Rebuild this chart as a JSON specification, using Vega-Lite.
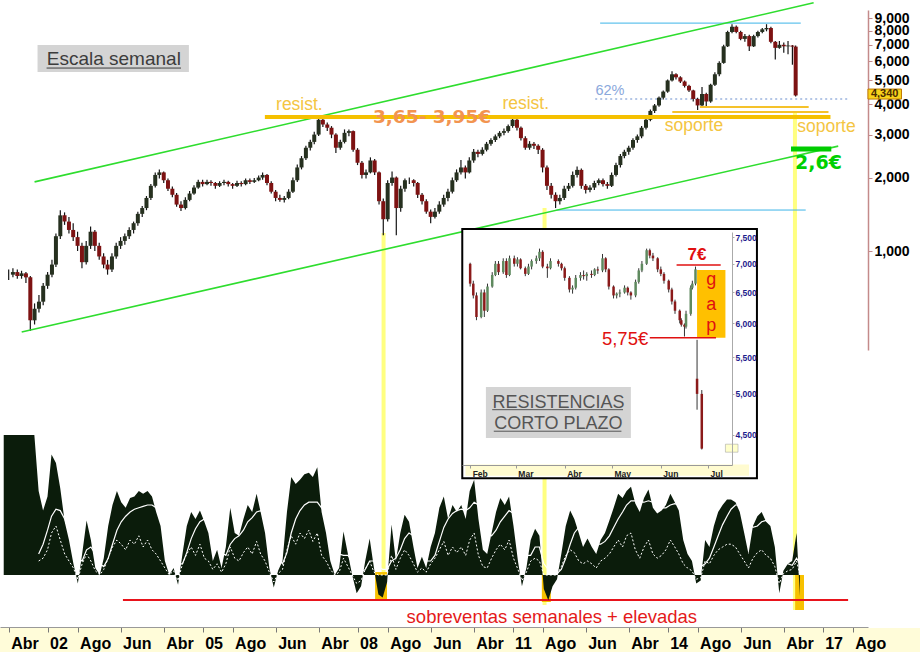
{
"$schema": "https://vega.github.io/schema/vega-lite/v6.json",
"width": 868, "height": 627,
"autosize": "none",
"padding": {"left": 0, "top": 0, "right": 52, "bottom": 25},
"background": "#ffffff",
"config": {"view": {"stroke": null}, "font": "Liberation Sans", "axis": {"labelFont": "Liberation Sans", "grid": false}},
"datasets": {
"m": [
{"d":"2001-04-01","o":0.80,"h":0.84,"l":0.76,"c":0.80,"s":100},
{"d":"2001-05-01","o":0.80,"h":0.85,"l":0.78,"c":0.82,"s":100},
{"d":"2001-06-01","o":0.82,"h":0.84,"l":0.77,"c":0.79,"s":100},
{"d":"2001-07-01","o":0.79,"h":0.83,"l":0.77,"c":0.81,"s":100},
{"d":"2001-08-01","o":0.81,"h":0.82,"l":0.74,"c":0.78,"s":100},
{"d":"2001-09-01","o":0.78,"h":0.79,"l":0.47,"c":0.52,"s":100},
{"d":"2001-10-01","o":0.52,"h":0.61,"l":0.50,"c":0.58,"s":100},
{"d":"2001-11-01","o":0.58,"h":0.66,"l":0.56,"c":0.62,"s":100},
{"d":"2001-12-01","o":0.62,"h":0.74,"l":0.60,"c":0.72,"s":60,"a":15,"g":10},
{"d":"2002-01-01","o":0.72,"h":0.82,"l":0.70,"c":0.80,"s":46,"a":22,"g":12},
{"d":"2002-02-01","o":0.80,"h":0.92,"l":0.78,"c":0.88,"s":56,"a":32,"g":18},
{"d":"2002-03-01","o":0.88,"h":1.18,"l":0.86,"c":1.15,"s":86,"a":42,"g":30},
{"d":"2002-04-01","o":1.15,"h":1.47,"l":1.12,"c":1.40,"s":80,"a":47,"g":35},
{"d":"2002-05-01","o":1.40,"h":1.44,"l":1.28,"c":1.32,"s":62,"a":46,"g":25},
{"d":"2002-06-01","o":1.32,"h":1.38,"l":1.18,"c":1.22,"s":38,"a":40,"g":15},
{"d":"2002-07-01","o":1.22,"h":1.30,"l":1.10,"c":1.14,"s":25,"a":32,"g":10},
{"d":"2002-08-01","o":1.14,"h":1.20,"l":1.00,"c":1.05,"s":8,"a":22,"g":5},
{"d":"2002-09-01","o":1.05,"h":1.08,"l":0.85,"c":0.90,"s":-6,"a":12,"g":-3},
{"d":"2002-10-01","o":0.90,"h":1.10,"l":0.88,"c":1.05,"s":15,"a":10,"g":8},
{"d":"2002-11-01","o":1.05,"h":1.26,"l":1.02,"c":1.20,"s":39,"a":18,"g":15},
{"d":"2002-12-01","o":1.20,"h":1.22,"l":1.00,"c":1.05,"s":25,"a":20,"g":10},
{"d":"2003-01-01","o":1.05,"h":1.08,"l":0.92,"c":0.95,"s":5,"a":15,"g":3},
{"d":"2003-02-01","o":0.95,"h":0.98,"l":0.85,"c":0.88,"s":0,"a":8,"g":0},
{"d":"2003-03-01","o":0.88,"h":0.92,"l":0.80,"c":0.84,"s":12,"a":6,"g":4},
{"d":"2003-04-01","o":0.84,"h":0.98,"l":0.82,"c":0.95,"s":35,"a":12,"g":12},
{"d":"2003-05-01","o":0.95,"h":1.08,"l":0.93,"c":1.05,"s":50,"a":22,"g":20},
{"d":"2003-06-01","o":1.05,"h":1.14,"l":1.02,"c":1.10,"s":60,"a":32,"g":25},
{"d":"2003-07-01","o":1.10,"h":1.18,"l":1.06,"c":1.15,"s":52,"a":38,"g":22},
{"d":"2003-08-01","o":1.15,"h":1.25,"l":1.12,"c":1.22,"s":48,"a":42,"g":18},
{"d":"2003-09-01","o":1.22,"h":1.32,"l":1.18,"c":1.30,"s":55,"a":45,"g":25},
{"d":"2003-10-01","o":1.30,"h":1.45,"l":1.27,"c":1.42,"s":56,"a":47,"g":22},
{"d":"2003-11-01","o":1.42,"h":1.53,"l":1.38,"c":1.50,"s":60,"a":48,"g":28},
{"d":"2003-12-01","o":1.50,"h":1.68,"l":1.47,"c":1.65,"s":58,"a":49,"g":20},
{"d":"2004-01-01","o":1.65,"h":1.88,"l":1.62,"c":1.85,"s":60,"a":50,"g":25},
{"d":"2004-02-01","o":1.85,"h":2.10,"l":1.82,"c":2.05,"s":56,"a":50,"g":18},
{"d":"2004-03-01","o":2.05,"h":2.16,"l":1.98,"c":2.10,"s":45,"a":48,"g":15},
{"d":"2004-04-01","o":2.10,"h":2.12,"l":1.90,"c":1.95,"s":35,"a":44,"g":10},
{"d":"2004-05-01","o":1.95,"h":1.98,"l":1.76,"c":1.80,"s":10,"a":36,"g":5},
{"d":"2004-06-01","o":1.80,"h":1.84,"l":1.66,"c":1.70,"s":0,"a":26,"g":0},
{"d":"2004-07-01","o":1.70,"h":1.73,"l":1.52,"c":1.55,"s":5,"a":16,"g":3},
{"d":"2004-08-01","o":1.55,"h":1.60,"l":1.46,"c":1.50,"s":-7,"a":8,"g":-4},
{"d":"2004-09-01","o":1.50,"h":1.66,"l":1.48,"c":1.62,"s":15,"a":8,"g":8},
{"d":"2004-10-01","o":1.62,"h":1.76,"l":1.60,"c":1.72,"s":35,"a":16,"g":15},
{"d":"2004-11-01","o":1.72,"h":1.86,"l":1.70,"c":1.82,"s":45,"a":26,"g":20},
{"d":"2004-12-01","o":1.82,"h":1.96,"l":1.80,"c":1.92,"s":40,"a":33,"g":14},
{"d":"2005-01-01","o":1.92,"h":1.96,"l":1.84,"c":1.88,"s":46,"a":38,"g":22},
{"d":"2005-02-01","o":1.88,"h":1.96,"l":1.86,"c":1.92,"s":38,"a":40,"g":12},
{"d":"2005-03-01","o":1.92,"h":1.95,"l":1.85,"c":1.90,"s":30,"a":38,"g":10},
{"d":"2005-04-01","o":1.90,"h":1.92,"l":1.80,"c":1.85,"s":10,"a":32,"g":4},
{"d":"2005-05-01","o":1.85,"h":1.93,"l":1.83,"c":1.90,"s":18,"a":24,"g":8},
{"d":"2005-06-01","o":1.90,"h":1.96,"l":1.86,"c":1.92,"s":5,"a":16,"g":2},
{"d":"2005-07-01","o":1.92,"h":1.94,"l":1.84,"c":1.88,"s":20,"a":14,"g":8},
{"d":"2005-08-01","o":1.88,"h":1.90,"l":1.80,"c":1.85,"s":48,"a":22,"g":20},
{"d":"2005-09-01","o":1.85,"h":1.94,"l":1.83,"c":1.90,"s":30,"a":26,"g":12},
{"d":"2005-10-01","o":1.90,"h":1.93,"l":1.84,"c":1.88,"s":28,"a":28,"g":10},
{"d":"2005-11-01","o":1.88,"h":1.98,"l":1.86,"c":1.95,"s":40,"a":32,"g":16},
{"d":"2005-12-01","o":1.95,"h":1.98,"l":1.88,"c":1.92,"s":50,"a":38,"g":20},
{"d":"2006-01-01","o":1.92,"h":1.99,"l":1.90,"c":1.95,"s":45,"a":41,"g":15},
{"d":"2006-02-01","o":1.95,"h":2.04,"l":1.93,"c":2.00,"s":58,"a":45,"g":24},
{"d":"2006-03-01","o":2.00,"h":2.10,"l":1.96,"c":2.05,"s":45,"a":46,"g":15},
{"d":"2006-04-01","o":2.05,"h":2.07,"l":1.86,"c":1.90,"s":30,"a":42,"g":10},
{"d":"2006-05-01","o":1.90,"h":1.93,"l":1.72,"c":1.75,"s":5,"a":34,"g":2},
{"d":"2006-06-01","o":1.75,"h":1.78,"l":1.60,"c":1.65,"s":-9,"a":22,"g":-5},
{"d":"2006-07-01","o":1.65,"h":1.70,"l":1.59,"c":1.62,"s":3,"a":12,"g":1},
{"d":"2006-08-01","o":1.62,"h":1.68,"l":1.58,"c":1.65,"s":10,"a":8,"g":4},
{"d":"2006-09-01","o":1.65,"h":1.79,"l":1.63,"c":1.75,"s":45,"a":16,"g":18},
{"d":"2006-10-01","o":1.75,"h":2.00,"l":1.73,"c":1.95,"s":70,"a":30,"g":28},
{"d":"2006-11-01","o":1.95,"h":2.26,"l":1.92,"c":2.20,"s":65,"a":40,"g":22},
{"d":"2006-12-01","o":2.20,"h":2.45,"l":2.16,"c":2.40,"s":68,"a":46,"g":30},
{"d":"2007-01-01","o":2.40,"h":2.70,"l":2.36,"c":2.65,"s":72,"a":50,"g":26},
{"d":"2007-02-01","o":2.65,"h":2.86,"l":2.58,"c":2.80,"s":73,"a":52,"g":32},
{"d":"2007-03-01","o":2.80,"h":3.08,"l":2.74,"c":3.00,"s":70,"a":52,"g":24},
{"d":"2007-04-01","o":3.00,"h":3.55,"l":2.96,"c":3.45,"s":77,"a":52,"g":30},
{"d":"2007-05-01","o":3.45,"h":3.50,"l":3.22,"c":3.30,"s":45,"a":48,"g":14},
{"d":"2007-06-01","o":3.30,"h":3.36,"l":3.10,"c":3.20,"s":30,"a":42,"g":10},
{"d":"2007-07-01","o":3.20,"h":3.25,"l":2.90,"c":3.00,"s":10,"a":34,"g":4},
{"d":"2007-08-01","o":3.00,"h":3.04,"l":2.52,"c":2.65,"s":0,"a":24,"g":0},
{"d":"2007-09-01","o":2.65,"h":2.86,"l":2.60,"c":2.80,"s":5,"a":15,"g":2},
{"d":"2007-10-01","o":2.80,"h":3.15,"l":2.76,"c":3.05,"s":31,"a":14,"g":12},
{"d":"2007-11-01","o":3.05,"h":3.15,"l":2.95,"c":3.10,"s":15,"a":14,"g":6},
{"d":"2007-12-01","o":3.10,"h":3.12,"l":2.55,"c":2.60,"s":0,"a":10,"g":0},
{"d":"2008-01-01","o":2.60,"h":2.64,"l":2.25,"c":2.30,"s":-13,"a":3,"g":-6},
{"d":"2008-02-01","o":2.30,"h":2.34,"l":1.98,"c":2.05,"s":-8,"a":2,"g":-4},
{"d":"2008-03-01","o":2.05,"h":2.16,"l":1.98,"c":2.10,"s":10,"a":4,"g":4},
{"d":"2008-04-01","o":2.10,"h":2.42,"l":2.08,"c":2.35,"s":26,"a":10,"g":10},
{"d":"2008-05-01","o":2.35,"h":2.38,"l":2.05,"c":2.10,"s":5,"a":10,"g":2},
{"d":"2008-06-01","o":2.10,"h":2.12,"l":1.55,"c":1.60,"s":-14,"a":6,"g":0},
{"d":"2008-07-01","o":1.60,"h":1.64,"l":1.16,"c":1.35,"s":-16,"a":4,"g":0},
{"d":"2008-08-01","o":1.35,"h":1.95,"l":1.32,"c":1.90,"s":-5,"a":4,"g":0},
{"d":"2008-09-01","o":1.90,"h":2.12,"l":1.85,"c":2.00,"s":36,"a":10,"g":14},
{"d":"2008-10-01","o":2.00,"h":2.02,"l":1.16,"c":1.50,"s":10,"a":12,"g":4},
{"d":"2008-11-01","o":1.50,"h":1.85,"l":1.45,"c":1.80,"s":30,"a":18,"g":12},
{"d":"2008-12-01","o":1.80,"h":1.98,"l":1.75,"c":1.95,"s":43,"a":26,"g":18},
{"d":"2009-01-01","o":1.95,"h":2.00,"l":1.88,"c":1.95,"s":38,"a":30,"g":14},
{"d":"2009-02-01","o":1.95,"h":1.97,"l":1.84,"c":1.90,"s":20,"a":28,"g":8},
{"d":"2009-03-01","o":1.90,"h":1.92,"l":1.65,"c":1.70,"s":5,"a":22,"g":2},
{"d":"2009-04-01","o":1.70,"h":1.73,"l":1.55,"c":1.60,"s":13,"a":16,"g":5},
{"d":"2009-05-01","o":1.60,"h":1.63,"l":1.42,"c":1.45,"s":5,"a":10,"g":2},
{"d":"2009-06-01","o":1.45,"h":1.48,"l":1.30,"c":1.38,"s":20,"a":10,"g":8},
{"d":"2009-07-01","o":1.38,"h":1.50,"l":1.36,"c":1.45,"s":30,"a":14,"g":12},
{"d":"2009-08-01","o":1.45,"h":1.60,"l":1.42,"c":1.55,"s":48,"a":24,"g":18},
{"d":"2009-09-01","o":1.55,"h":1.70,"l":1.52,"c":1.65,"s":56,"a":34,"g":24},
{"d":"2009-10-01","o":1.65,"h":1.80,"l":1.60,"c":1.75,"s":40,"a":40,"g":14},
{"d":"2009-11-01","o":1.75,"h":2.00,"l":1.72,"c":1.95,"s":50,"a":44,"g":20},
{"d":"2009-12-01","o":1.95,"h":2.16,"l":1.92,"c":2.10,"s":45,"a":46,"g":16},
{"d":"2010-01-01","o":2.10,"h":2.36,"l":2.06,"c":2.20,"s":50,"a":47,"g":20},
{"d":"2010-02-01","o":2.20,"h":2.24,"l":1.98,"c":2.10,"s":40,"a":46,"g":14},
{"d":"2010-03-01","o":2.10,"h":2.42,"l":2.08,"c":2.35,"s":60,"a":48,"g":25},
{"d":"2010-04-01","o":2.35,"h":2.62,"l":2.30,"c":2.55,"s":68,"a":52,"g":30},
{"d":"2010-05-01","o":2.55,"h":2.60,"l":2.42,"c":2.50,"s":40,"a":50,"g":14},
{"d":"2010-06-01","o":2.50,"h":2.66,"l":2.46,"c":2.60,"s":18,"a":42,"g":6},
{"d":"2010-07-01","o":2.60,"h":2.80,"l":2.56,"c":2.75,"s":15,"a":32,"g":5},
{"d":"2010-08-01","o":2.75,"h":2.90,"l":2.70,"c":2.85,"s":30,"a":28,"g":12},
{"d":"2010-09-01","o":2.85,"h":3.00,"l":2.80,"c":2.95,"s":45,"a":32,"g":18},
{"d":"2010-10-01","o":2.95,"h":3.10,"l":2.90,"c":3.05,"s":55,"a":38,"g":22},
{"d":"2010-11-01","o":3.05,"h":3.18,"l":2.98,"c":3.10,"s":50,"a":42,"g":18},
{"d":"2010-12-01","o":3.10,"h":3.30,"l":3.05,"c":3.25,"s":56,"a":46,"g":25},
{"d":"2011-01-01","o":3.25,"h":3.60,"l":3.20,"c":3.45,"s":35,"a":44,"g":12},
{"d":"2011-02-01","o":3.45,"h":3.50,"l":3.12,"c":3.20,"s":10,"a":36,"g":4},
{"d":"2011-03-01","o":3.20,"h":3.24,"l":2.84,"c":2.90,"s":-8,"a":24,"g":-4},
{"d":"2011-04-01","o":2.90,"h":2.95,"l":2.60,"c":2.65,"s":5,"a":14,"g":2},
{"d":"2011-05-01","o":2.65,"h":2.82,"l":2.60,"c":2.75,"s":25,"a":14,"g":10},
{"d":"2011-06-01","o":2.75,"h":2.80,"l":2.62,"c":2.70,"s":33,"a":20,"g":12},
{"d":"2011-07-01","o":2.70,"h":2.74,"l":2.50,"c":2.60,"s":28,"a":20,"g":10},
{"d":"2011-08-01","o":2.60,"h":2.64,"l":2.10,"c":2.20,"s":-10,"a":8,"g":0},
{"d":"2011-09-01","o":2.20,"h":2.24,"l":1.78,"c":1.85,"s":-18,"a":4,"g":0},
{"d":"2011-10-01","o":1.85,"h":1.90,"l":1.64,"c":1.70,"s":-8,"a":2,"g":0},
{"d":"2011-11-01","o":1.70,"h":1.74,"l":1.50,"c":1.60,"s":-3,"a":1,"g":0},
{"d":"2011-12-01","o":1.60,"h":1.70,"l":1.55,"c":1.65,"s":15,"a":4,"g":6},
{"d":"2012-01-01","o":1.65,"h":1.85,"l":1.62,"c":1.80,"s":35,"a":12,"g":14},
{"d":"2012-02-01","o":1.80,"h":1.90,"l":1.76,"c":1.85,"s":46,"a":22,"g":18},
{"d":"2012-03-01","o":1.85,"h":2.12,"l":1.82,"c":2.05,"s":40,"a":30,"g":16},
{"d":"2012-04-01","o":2.05,"h":2.22,"l":2.00,"c":2.15,"s":30,"a":34,"g":10},
{"d":"2012-05-01","o":2.15,"h":2.18,"l":1.80,"c":1.85,"s":20,"a":32,"g":8},
{"d":"2012-06-01","o":1.85,"h":1.88,"l":1.72,"c":1.78,"s":26,"a":28,"g":10},
{"d":"2012-07-01","o":1.78,"h":1.86,"l":1.74,"c":1.82,"s":20,"a":26,"g":8},
{"d":"2012-08-01","o":1.82,"h":1.94,"l":1.78,"c":1.90,"s":15,"a":22,"g":5},
{"d":"2012-09-01","o":1.90,"h":1.98,"l":1.86,"c":1.95,"s":25,"a":22,"g":10},
{"d":"2012-10-01","o":1.95,"h":1.98,"l":1.84,"c":1.88,"s":30,"a":24,"g":12},
{"d":"2012-11-01","o":1.88,"h":1.92,"l":1.80,"c":1.85,"s":39,"a":28,"g":15},
{"d":"2012-12-01","o":1.85,"h":2.10,"l":1.83,"c":2.05,"s":48,"a":34,"g":20},
{"d":"2013-01-01","o":2.05,"h":2.30,"l":2.02,"c":2.25,"s":58,"a":40,"g":25},
{"d":"2013-02-01","o":2.25,"h":2.50,"l":2.20,"c":2.45,"s":55,"a":45,"g":20},
{"d":"2013-03-01","o":2.45,"h":2.60,"l":2.40,"c":2.55,"s":60,"a":50,"g":28},
{"d":"2013-04-01","o":2.55,"h":2.70,"l":2.48,"c":2.65,"s":63,"a":53,"g":30},
{"d":"2013-05-01","o":2.65,"h":2.90,"l":2.60,"c":2.85,"s":51,"a":53,"g":18},
{"d":"2013-06-01","o":2.85,"h":3.00,"l":2.78,"c":2.95,"s":45,"a":52,"g":12},
{"d":"2013-07-01","o":2.95,"h":3.25,"l":2.90,"c":3.20,"s":55,"a":52,"g":20},
{"d":"2013-08-01","o":3.20,"h":3.50,"l":3.15,"c":3.45,"s":61,"a":53,"g":25},
{"d":"2013-09-01","o":3.45,"h":3.80,"l":3.40,"c":3.75,"s":48,"a":52,"g":15},
{"d":"2013-10-01","o":3.75,"h":4.00,"l":3.68,"c":3.95,"s":44,"a":50,"g":12},
{"d":"2013-11-01","o":3.95,"h":4.30,"l":3.90,"c":4.25,"s":46,"a":48,"g":14},
{"d":"2013-12-01","o":4.25,"h":4.55,"l":4.18,"c":4.50,"s":50,"a":48,"g":18},
{"d":"2014-01-01","o":4.50,"h":5.05,"l":4.45,"c":5.00,"s":58,"a":50,"g":25},
{"d":"2014-02-01","o":5.00,"h":5.45,"l":4.95,"c":5.30,"s":52,"a":51,"g":20},
{"d":"2014-03-01","o":5.30,"h":5.35,"l":5.05,"c":5.15,"s":46,"a":50,"g":15},
{"d":"2014-04-01","o":5.15,"h":5.20,"l":4.88,"c":4.95,"s":25,"a":45,"g":8},
{"d":"2014-05-01","o":4.95,"h":5.00,"l":4.68,"c":4.75,"s":15,"a":36,"g":5},
{"d":"2014-06-01","o":4.75,"h":4.80,"l":4.48,"c":4.55,"s":10,"a":26,"g":3},
{"d":"2014-07-01","o":4.55,"h":4.58,"l":4.10,"c":4.20,"s":-6,"a":15,"g":-3},
{"d":"2014-08-01","o":4.20,"h":4.25,"l":3.78,"c":3.95,"s":-4,"a":6,"g":-2},
{"d":"2014-09-01","o":3.95,"h":4.70,"l":3.92,"c":4.40,"s":25,"a":8,"g":10},
{"d":"2014-10-01","o":4.40,"h":4.45,"l":3.89,"c":4.10,"s":20,"a":12,"g":8},
{"d":"2014-11-01","o":4.10,"h":4.85,"l":4.05,"c":4.80,"s":35,"a":20,"g":14},
{"d":"2014-12-01","o":4.80,"h":5.40,"l":4.75,"c":5.30,"s":45,"a":28,"g":18},
{"d":"2015-01-01","o":5.30,"h":6.00,"l":5.20,"c":5.90,"s":50,"a":36,"g":20},
{"d":"2015-02-01","o":5.90,"h":7.00,"l":5.85,"c":6.90,"s":54,"a":42,"g":22},
{"d":"2015-03-01","o":6.90,"h":8.00,"l":6.85,"c":7.90,"s":54,"a":47,"g":22},
{"d":"2015-04-01","o":7.90,"h":8.50,"l":7.80,"c":8.30,"s":52,"a":50,"g":20},
{"d":"2015-05-01","o":8.30,"h":8.40,"l":7.80,"c":7.90,"s":45,"a":50,"g":15},
{"d":"2015-06-01","o":7.90,"h":8.00,"l":7.30,"c":7.40,"s":30,"a":46,"g":10},
{"d":"2015-07-01","o":7.40,"h":7.75,"l":7.20,"c":7.60,"s":15,"a":38,"g":5},
{"d":"2015-08-01","o":7.60,"h":7.70,"l":6.60,"c":6.90,"s":35,"a":34,"g":12},
{"d":"2015-09-01","o":6.90,"h":7.70,"l":6.85,"c":7.60,"s":42,"a":35,"g":16},
{"d":"2015-10-01","o":7.60,"h":8.00,"l":7.50,"c":7.90,"s":45,"a":38,"g":18},
{"d":"2015-11-01","o":7.90,"h":8.20,"l":7.80,"c":8.10,"s":38,"a":39,"g":14},
{"d":"2015-12-01","o":8.10,"h":8.50,"l":7.95,"c":8.20,"s":35,"a":38,"g":12},
{"d":"2016-01-01","o":8.20,"h":8.30,"l":7.10,"c":7.20,"s":20,"a":33,"g":6},
{"d":"2016-02-01","o":7.20,"h":7.25,"l":6.10,"c":6.80,"s":-13,"a":22,"g":-6},
{"d":"2016-03-01","o":6.80,"h":7.25,"l":6.75,"c":7.00,"s":3,"a":12,"g":1},
{"d":"2016-04-01","o":7.00,"h":7.15,"l":6.50,"c":6.90,"s":8,"a":8,"g":3},
{"d":"2016-05-01","o":6.90,"h":7.25,"l":6.40,"c":6.95,"s":10,"a":7,"g":4},
{"d":"2016-06-01","o":6.95,"h":6.98,"l":5.80,"c":6.88,"s":30,"a":12,"g":10},
{"d":"2016-06-24","o":6.88,"h":6.95,"l":4.30,"c":4.34,"s":-15,"a":8,"g":0}
],
"ins": [
{"d":"2016-02-01","o":7.00,"h":7.02,"l":6.60,"c":6.65},
{"d":"2016-02-03","o":6.65,"h":6.70,"l":6.40,"c":6.45},
{"d":"2016-02-05","o":6.45,"h":6.50,"l":6.05,"c":6.10},
{"d":"2016-02-08","o":6.10,"h":6.55,"l":6.08,"c":6.50},
{"d":"2016-02-10","o":6.50,"h":6.55,"l":6.10,"c":6.20},
{"d":"2016-02-12","o":6.20,"h":6.65,"l":6.18,"c":6.60},
{"d":"2016-02-15","o":6.60,"h":6.85,"l":6.58,"c":6.80},
{"d":"2016-02-17","o":6.80,"h":7.05,"l":6.78,"c":7.00},
{"d":"2016-02-19","o":7.00,"h":7.05,"l":6.80,"c":6.85},
{"d":"2016-02-22","o":6.85,"h":7.10,"l":6.82,"c":7.05},
{"d":"2016-02-24","o":7.05,"h":7.10,"l":6.75,"c":6.80},
{"d":"2016-02-26","o":6.80,"h":7.15,"l":6.78,"c":7.10},
{"d":"2016-02-29","o":7.10,"h":7.15,"l":6.95,"c":7.00},
{"d":"2016-03-02","o":7.00,"h":7.12,"l":6.95,"c":7.08},
{"d":"2016-03-04","o":7.08,"h":7.10,"l":6.90,"c":6.92},
{"d":"2016-03-07","o":6.92,"h":6.95,"l":6.78,"c":6.82},
{"d":"2016-03-09","o":6.82,"h":7.00,"l":6.80,"c":6.95},
{"d":"2016-03-11","o":6.95,"h":7.08,"l":6.90,"c":7.05},
{"d":"2016-03-14","o":7.05,"h":7.15,"l":7.00,"c":7.10},
{"d":"2016-03-16","o":7.10,"h":7.28,"l":7.05,"c":7.22},
{"d":"2016-03-18","o":7.22,"h":7.25,"l":6.92,"c":6.95},
{"d":"2016-03-21","o":6.95,"h":7.00,"l":6.75,"c":6.92},
{"d":"2016-03-23","o":6.92,"h":7.10,"l":6.90,"c":7.05},
{"d":"2016-03-28","o":7.05,"h":7.08,"l":6.95,"c":7.00},
{"d":"2016-03-30","o":7.00,"h":7.02,"l":6.88,"c":6.92},
{"d":"2016-04-01","o":6.92,"h":6.95,"l":6.70,"c":6.75},
{"d":"2016-04-04","o":6.75,"h":6.78,"l":6.50,"c":6.55},
{"d":"2016-04-06","o":6.55,"h":6.62,"l":6.48,"c":6.58},
{"d":"2016-04-08","o":6.58,"h":6.80,"l":6.55,"c":6.75},
{"d":"2016-04-11","o":6.75,"h":6.85,"l":6.70,"c":6.80},
{"d":"2016-04-13","o":6.80,"h":6.88,"l":6.72,"c":6.78},
{"d":"2016-04-15","o":6.78,"h":6.85,"l":6.70,"c":6.82},
{"d":"2016-04-18","o":6.82,"h":6.88,"l":6.75,"c":6.80},
{"d":"2016-04-20","o":6.80,"h":6.92,"l":6.78,"c":6.90},
{"d":"2016-04-22","o":6.90,"h":6.95,"l":6.82,"c":6.88},
{"d":"2016-04-25","o":6.88,"h":7.18,"l":6.85,"c":7.10},
{"d":"2016-04-27","o":7.10,"h":7.12,"l":6.85,"c":6.90},
{"d":"2016-04-29","o":6.90,"h":6.92,"l":6.55,"c":6.60},
{"d":"2016-05-02","o":6.60,"h":6.62,"l":6.40,"c":6.45},
{"d":"2016-05-04","o":6.45,"h":6.50,"l":6.40,"c":6.48},
{"d":"2016-05-06","o":6.48,"h":6.55,"l":6.42,"c":6.50},
{"d":"2016-05-09","o":6.50,"h":6.62,"l":6.48,"c":6.58},
{"d":"2016-05-11","o":6.58,"h":6.60,"l":6.45,"c":6.50},
{"d":"2016-05-13","o":6.50,"h":6.52,"l":6.38,"c":6.45},
{"d":"2016-05-16","o":6.45,"h":6.72,"l":6.42,"c":6.68},
{"d":"2016-05-18","o":6.68,"h":6.92,"l":6.65,"c":6.88},
{"d":"2016-05-20","o":6.88,"h":7.05,"l":6.85,"c":7.00},
{"d":"2016-05-23","o":7.00,"h":7.28,"l":6.98,"c":7.25},
{"d":"2016-05-25","o":7.25,"h":7.28,"l":7.10,"c":7.15},
{"d":"2016-05-27","o":7.15,"h":7.20,"l":7.05,"c":7.10},
{"d":"2016-05-30","o":7.10,"h":7.12,"l":6.85,"c":6.90},
{"d":"2016-06-01","o":6.90,"h":6.95,"l":6.78,"c":6.82},
{"d":"2016-06-03","o":6.82,"h":6.85,"l":6.65,"c":6.70},
{"d":"2016-06-06","o":6.70,"h":6.72,"l":6.50,"c":6.55},
{"d":"2016-06-08","o":6.55,"h":6.58,"l":6.30,"c":6.35},
{"d":"2016-06-10","o":6.35,"h":6.38,"l":6.15,"c":6.20},
{"d":"2016-06-13","o":6.20,"h":6.22,"l":6.00,"c":6.05},
{"d":"2016-06-14","o":6.05,"h":6.08,"l":5.95,"c":5.98},
{"d":"2016-06-16","o":5.98,"h":6.00,"l":5.80,"c":5.95},
{"d":"2016-06-17","o":5.95,"h":6.20,"l":5.92,"c":6.15},
{"d":"2016-06-20","o":6.15,"h":6.62,"l":6.12,"c":6.58},
{"d":"2016-06-21","o":6.58,"h":6.70,"l":6.55,"c":6.65},
{"d":"2016-06-23","o":6.65,"h":6.95,"l":6.62,"c":6.90},
{"d":"2016-06-24","o":5.20,"h":5.75,"l":4.80,"c":5.00},
{"d":"2016-06-27","o":5.00,"h":5.05,"l":4.33,"c":4.34}
]
},
"resolve": {"scale": {"x": "independent", "y": "independent"}},
"layer": [
{
"encoding": {"x": {"field": "d", "type": "temporal",
  "scale": {"type": "utc", "nice": false, "domain": [{"year":2001,"month":3,"date":6,"utc":true},{"year":2017,"month":10,"date":13,"utc":true}]},
  "axis": {"orient": "bottom", "zindex": 1, "grid": false, "title": null,
    "values": [{"year":2001,"month":4,"date":1,"utc":true},{"year":2002,"month":1,"date":1,"utc":true},{"year":2002,"month":8,"date":1,"utc":true},{"year":2003,"month":6,"date":1,"utc":true},{"year":2004,"month":4,"date":1,"utc":true},{"year":2005,"month":1,"date":1,"utc":true},{"year":2005,"month":8,"date":1,"utc":true},{"year":2006,"month":6,"date":1,"utc":true},{"year":2007,"month":4,"date":1,"utc":true},{"year":2008,"month":1,"date":1,"utc":true},{"year":2008,"month":8,"date":1,"utc":true},{"year":2009,"month":6,"date":1,"utc":true},{"year":2010,"month":4,"date":1,"utc":true},{"year":2011,"month":1,"date":1,"utc":true},{"year":2011,"month":8,"date":1,"utc":true},{"year":2012,"month":6,"date":1,"utc":true},{"year":2013,"month":4,"date":1,"utc":true},{"year":2014,"month":1,"date":1,"utc":true},{"year":2014,"month":8,"date":1,"utc":true},{"year":2015,"month":6,"date":1,"utc":true},{"year":2016,"month":4,"date":1,"utc":true},{"year":2017,"month":1,"date":1,"utc":true},{"year":2017,"month":8,"date":1,"utc":true}],
    "labelExpr": "utcmonth(datum.value) == 0 ? utcFormat(datum.value, '%y') : ['Ene','Feb','Mar','Abr','May','Jun','Jul','Ago','Sep','Oct','Nov','Dic'][utcmonth(datum.value)]",
    "labelAlign": "left", "labelOffset": 2, "labelPadding": 3, "labelFontSize": 16, "labelFontWeight": "bold", "labelColor": "#000000",
    "labelOverlap": false, "labelFlush": false, "tickSize": 5, "tickColor": "#777777", "domainColor": "#999999"}},
  "y": {"field": "p", "type": "quantitative", "scale": {"type": "log", "domain": [0.393, 9.72], "range": [350, 10], "nice": false},
     "axis": {"orient": "right", "grid": false, "title": null, "values": [1,2,3,4,5,6,7,8,9], "labelExpr": "replace(format(datum.value, '.3f'), '.', ',')",
       "domainColor": "#c48a8a", "domainWidth": 1.5, "tickColor": "#c48a8a", "tickSize": 4, "labelFontSize": 14, "labelFontWeight": "bold",
       "labelColor": "#000000", "labelPadding": 2, "labelOverlap": false, "labelFlush": false}}},
"layer": [
 {"data": {"values": [{"d":"2008-07-03","p":1.185,"p2":0.0372},{"d":"2011-08-15","p":1.5,"p2":0.0354},{"d":"2016-06-19","p":3.68,"p2":0.0338}]},
  "mark": {"type": "rule", "color": "#ffff80", "strokeWidth": 4},
  "encoding": {"y2": {"field": "p2"}}},
 {"data": {"values": [{"d":"2012-09-11","d2":"2016-07-30","p":8.59},{"d":"2011-11-07","d2":"2016-09-03","p":1.472}]},
  "mark": {"type": "rule", "color": "#3cb4e8", "strokeWidth": 1},
  "encoding": {"x2": {"field": "d2"}}},
 {"data": {"values": [{"d":"2012-08-07","d2":"2017-06-30","p":4.195}]},
  "mark": {"type": "rule", "color": "#9ab2de", "strokeWidth": 1.5, "strokeDash": [2, 3]},
  "encoding": {"x2": {"field": "d2"}}},
 {"data": {"name": "m"},
  "mark": {"type": "rule", "color": "#151515", "strokeWidth": 1.2},
  "encoding": {"y": {"field": "l", "type": "quantitative", "scale": {"type": "log", "domain": [0.393, 9.72], "range": [350, 10], "nice": false},
     "axis": {"orient": "right", "grid": false, "title": null, "values": [1,2,3,4,5,6,7,8,9], "labelExpr": "replace(format(datum.value, '.3f'), '.', ',')",
       "domainColor": "#c48a8a", "domainWidth": 1.5, "tickColor": "#c48a8a", "tickSize": 4, "labelFontSize": 14, "labelFontWeight": "bold",
       "labelColor": "#000000", "labelPadding": 2, "labelOverlap": false, "labelFlush": false}},
   "y2": {"field": "h"}}},
 {"data": {"name": "m"},
  "mark": {"type": "bar", "width": 4},
  "encoding": {"y": {"field": "o", "type": "quantitative", "scale": {"type": "log", "domain": [0.393, 9.72], "range": [350, 10], "nice": false},
     "axis": {"orient": "right", "grid": false, "title": null, "values": [1,2,3,4,5,6,7,8,9], "labelExpr": "replace(format(datum.value, '.3f'), '.', ',')",
       "domainColor": "#c48a8a", "domainWidth": 1.5, "tickColor": "#c48a8a", "tickSize": 4, "labelFontSize": 14, "labelFontWeight": "bold",
       "labelColor": "#000000", "labelPadding": 2, "labelOverlap": false, "labelFlush": false}},
   "y2": {"field": "c"},
   "color": {"condition": {"test": "datum.c < datum.o", "value": "#7d1212"}, "value": "#26301f"}}},
 {"data": {"values": [{"d":"2001-10-01","p":1.92,"k":"u"},{"d":"2016-10-29","p":10.4,"k":"u"},{"d":"2001-07-02","p":0.466,"k":"l"},{"d":"2017-04-21","p":2.69,"k":"l"}]},
  "mark": {"type": "line", "color": "#2edd2e", "strokeWidth": 1.6},
  "encoding": {"detail": {"field": "k"}}},
 {"data": {"values": [{"d":"2014-08-17","d2":"2016-09-24","p":3.89},{"d":"2014-02-03","d2":"2017-02-11","p":3.71}]},
  "mark": {"type": "rule", "color": "#f5c22a", "strokeWidth": 2},
  "encoding": {"x2": {"field": "d2"}}},
 {"data": {"values": [{"d":"2006-03-17","d2":"2017-02-25","p":3.54}]},
  "mark": {"type": "rule", "color": "#f5c000", "strokeWidth": 4},
  "encoding": {"x2": {"field": "d2"}}},
 {"data": {"values": [{"d":"2016-05-22","d2":"2017-03-03","p":2.62}]},
  "mark": {"type": "rule", "color": "#00cc00", "strokeWidth": 5},
  "encoding": {"x2": {"field": "d2"}}},
 {"data": {"values": [{"d":"2001-10-22","d2":"2004-09-26","p":6.98,"p2":5.41}]},
  "mark": {"type": "rect", "color": "#d4d4d4"},
  "encoding": {"x2": {"field": "d2"}, "y2": {"field": "p2"}}},
 {"data": {"values": [{"d":"2001-12-25","d2":"2004-08-01","p":5.62}]},
  "mark": {"type": "rule", "color": "#3c3c3c", "strokeWidth": 1},
  "encoding": {"x2": {"field": "d2"}}},
 {"data": {"values": [{"d":"2003-04-14","p":6.12,"t":"Escala semanal"}]},
  "mark": {"type": "text", "font": "Liberation Sans", "fontSize": 19, "color": "#3c3c3c", "align": "center", "baseline": "middle"},
  "encoding": {"text": {"field": "t"}}},
 {"data": {"values": [{"d":"2006-11-16","p":3.964,"t":"resist."},{"d":"2011-04-04","p":4.0,"t":"resist."},{"d":"2014-07-06","p":3.25,"t":"soporte"},{"d":"2017-01-28","p":3.22,"t":"soporte"}]},
  "mark": {"type": "text", "font": "Liberation Sans", "fontSize": 17.5, "color": "#f4c542", "align": "center", "baseline": "middle"},
  "encoding": {"text": {"field": "t"}}},
 {"data": {"values": [{"d":"2009-06-11","p":3.54,"t":"3,65- 3,95€"}]},
  "mark": {"type": "text", "font": "DejaVu Sans", "fontWeight": "bold", "fontSize": 18.5, "color": "#f29450", "align": "center", "baseline": "middle"},
  "encoding": {"text": {"field": "t"}}},
 {"data": {"values": [{"d":"2016-12-02","p":2.29,"t":"2,6€"}]},
  "mark": {"type": "text", "font": "DejaVu Sans", "fontWeight": "bold", "fontSize": 19, "color": "#00d000", "align": "center", "baseline": "middle"},
  "encoding": {"text": {"field": "t"}}},
 {"data": {"values": [{"d":"2012-11-19","p":4.52,"t":"62%"}]},
  "mark": {"type": "text", "font": "Liberation Sans", "fontSize": 14.5, "color": "#8aa8dc", "align": "center", "baseline": "middle"},
  "encoding": {"text": {"field": "t"}}},
 {"data": {"values": [{"d":"2017-11-17","d2":"2018-07-12","p":4.61,"p2":4.195}]},
  "mark": {"type": "rect", "color": "#f8d31c", "stroke": "#c07a00", "strokeWidth": 1},
  "encoding": {"x2": {"field": "d2"}, "y2": {"field": "p2"}}},
 {"data": {"values": [{"d":"2018-03-15","p":4.4,"t":"4,340"}]},
  "mark": {"type": "text", "font": "Liberation Sans", "fontWeight": "bold", "fontSize": 11, "color": "#4a2a00", "align": "center", "baseline": "middle"},
  "encoding": {"text": {"field": "t"}}}
]
},
{
"encoding": {"x": {"field": "d", "type": "temporal", "axis": null,
  "scale": {"type": "utc", "nice": false, "domain": [{"year":2001,"month":3,"date":6,"utc":true},{"year":2017,"month":10,"date":13,"utc":true}]}},
  "y": {"field": "v", "type": "quantitative", "scale": {"domain": [-40, 100], "range": [631, 435], "nice": false, "zero": false}, "axis": null}},
"layer": [
 {"data": {"values": [{"d":"2000-01-01","d2":"2019-06-01","v":-37.9,"v2":-58}]},
  "mark": {"type": "rect", "color": "#fffcd9"},
  "encoding": {"x2": {"field": "d2"}, "y2": {"field": "v2"}}},
 {"data": {"values": [{"d":"2008-05-09","d2":"2008-07-31","v":2.1,"v2":-17.9},{"d":"2011-07-18","d2":"2011-09-19","v":0,"v2":-19.3},{"d":"2016-05-22","d2":"2016-07-23","v":0,"v2":-25}]},
  "mark": {"type": "rect", "color": "#f7c100"},
  "encoding": {"x2": {"field": "d2"}, "y2": {"field": "v2"}}},
 {"data": {"values": [{"d":"2003-07-13","d2":"2017-05-27","v":-17.86}]},
  "mark": {"type": "rule", "color": "#e8131b", "strokeWidth": 2},
  "encoding": {"x2": {"field": "d2"}}},
 {"data": {"name": "m"},
  "mark": {"type": "area", "color": "#0b1c0b"},
  "encoding": {"y": {"field": "s", "type": "quantitative", "scale": {"domain": [-40, 100], "range": [631, 435], "nice": false, "zero": false}, "axis": null}, "y2": {"datum": 0}}},
 {"data": {"name": "m"},
  "mark": {"type": "line", "color": "#ffffff", "strokeWidth": 1.2},
  "encoding": {"y": {"field": "a", "type": "quantitative", "scale": {"domain": [-40, 100], "range": [631, 435], "nice": false, "zero": false}, "axis": null}}},
 {"data": {"name": "m"},
  "mark": {"type": "line", "color": "#ffffff", "strokeWidth": 1, "strokeDash": [2, 2]},
  "encoding": {"y": {"field": "g", "type": "quantitative", "scale": {"domain": [-40, 100], "range": [631, 435], "nice": false, "zero": false}, "axis": null}}},
 {"data": {"values": [{"d":"2011-09-26","v":-30,"t":"sobreventas semanales + elevadas"}]},
  "mark": {"type": "text", "font": "Liberation Sans", "fontSize": 18.5, "color": "#e41a1a", "align": "center", "baseline": "middle"},
  "encoding": {"text": {"field": "t"}}}
]
},
{
"encoding": {"x": {"field": "d", "type": "temporal",
  "scale": {"type": "utc", "nice": false, "domain": [{"year":2016,"month":1,"date":30,"utc":true},{"year":2016,"month":7,"date":13,"utc":true}], "range": [462, 732]},
  "axis": {"orient": "bottom", "offset": -162, "zindex": 1, "grid": false, "title": null,
    "values": [{"year":2016,"month":2,"date":1,"utc":true},{"year":2016,"month":3,"date":1,"utc":true},{"year":2016,"month":4,"date":1,"utc":true},{"year":2016,"month":5,"date":1,"utc":true},{"year":2016,"month":6,"date":1,"utc":true},{"year":2016,"month":7,"date":1,"utc":true}],
    "labelExpr": "['Ene','Feb','Mar','Abr','May','Jun','Jul','Ago','Sep','Oct','Nov','Dic'][utcmonth(datum.value)]",
    "labelAlign": "left", "labelOffset": 2, "labelPadding": 1, "labelFontSize": 8.5, "labelFontWeight": "bold", "labelColor": "#222222",
    "labelOverlap": false, "labelFlush": false, "tickSize": 3, "tickColor": "#999999", "domainColor": "#999999"}},
  "y": {"field": "p", "type": "quantitative", "scale": {"type": "log", "domain": [4.16, 7.6], "range": [465, 232], "nice": false},
     "axis": {"orient": "right", "offset": -136, "zindex": 1, "grid": false, "title": null, "values": [4.5,5,5.5,6,6.5,7,7.5],
       "labelExpr": "replace(format(datum.value, '.3f'), '.', ',')", "labelFontSize": 8.5, "labelFontWeight": "bold", "labelColor": "#1c1c8c",
       "tickSize": 2, "tickColor": "#aaaaaa", "domainColor": "#aaaaaa", "labelPadding": 1, "labelOverlap": false, "labelFlush": false}}},
"layer": [
 {"data": {"values": [{"d":"2016-01-27","d2":"2016-08-01","p":7.66,"p2":4.02}]},
  "mark": {"type": "rect", "fill": "#ffffff", "stroke": "#000000", "strokeWidth": 2},
  "encoding": {"x2": {"field": "d2"}, "y2": {"field": "p2"}}},
 {"data": {"values": [{"d":"2016-01-29","d2":"2016-07-27","p":4.165,"p2":4.045}]},
  "mark": {"type": "rect", "color": "#fffbd0"},
  "encoding": {"x2": {"field": "d2"}, "y2": {"field": "p2"}}},
 {"data": {"values": [{"d":"2016-06-24","d2":"2016-07-12","p":6.89,"p2":5.78}]},
  "mark": {"type": "rect", "color": "#ffc000"},
  "encoding": {"x2": {"field": "d2"}, "y2": {"field": "p2"}}},
 {"data": {"values": [{"d":"2016-02-11","d2":"2016-05-13","p":5.09,"p2":4.46}]},
  "mark": {"type": "rect", "color": "#d4d4d4"},
  "encoding": {"x2": {"field": "d2"}, "y2": {"field": "p2"}}},
 {"data": {"values": [{"d":"2016-06-11","d2":"2016-07-09","p":6.98},{"d":"2016-05-25","d2":"2016-07-06","p":5.78}]},
  "mark": {"type": "rule", "color": "#e01010", "strokeWidth": 1.5},
  "encoding": {"x2": {"field": "d2"}}},
 {"data": {"values": [{"d":"2016-02-15","d2":"2016-05-08","p":4.80},{"d":"2016-02-16","d2":"2016-05-07","p":4.54}]},
  "mark": {"type": "rule", "color": "#555555", "strokeWidth": 1},
  "encoding": {"x2": {"field": "d2"}}},
 {"data": {"name": "ins"},
  "mark": {"type": "rule", "color": "#333333", "strokeWidth": 1},
  "encoding": {"y": {"field": "l", "type": "quantitative", "scale": {"type": "log", "domain": [4.16, 7.6], "range": [465, 232], "nice": false},
     "axis": {"orient": "right", "offset": -136, "zindex": 1, "grid": false, "title": null, "values": [4.5,5,5.5,6,6.5,7,7.5],
       "labelExpr": "replace(format(datum.value, '.3f'), '.', ',')", "labelFontSize": 8.5, "labelFontWeight": "bold", "labelColor": "#1c1c8c",
       "tickSize": 2, "tickColor": "#aaaaaa", "domainColor": "#aaaaaa", "labelPadding": 1, "labelOverlap": false, "labelFlush": false}},
   "y2": {"field": "h"}}},
 {"data": {"name": "ins"},
  "mark": {"type": "bar", "width": 2.5},
  "encoding": {"y": {"field": "o", "type": "quantitative", "scale": {"type": "log", "domain": [4.16, 7.6], "range": [465, 232], "nice": false},
     "axis": {"orient": "right", "offset": -136, "zindex": 1, "grid": false, "title": null, "values": [4.5,5,5.5,6,6.5,7,7.5],
       "labelExpr": "replace(format(datum.value, '.3f'), '.', ',')", "labelFontSize": 8.5, "labelFontWeight": "bold", "labelColor": "#1c1c8c",
       "tickSize": 2, "tickColor": "#aaaaaa", "domainColor": "#aaaaaa", "labelPadding": 1, "labelOverlap": false, "labelFlush": false}},
   "y2": {"field": "c"},
   "color": {"condition": {"test": "datum.c < datum.o", "value": "#8b1a1a"}, "value": "#5f8a5f"}}},
 {"data": {"values": [{"d":"2016-06-24","p":7.165,"t":"7€"}]},
  "mark": {"type": "text", "font": "Liberation Sans", "fontWeight": "bold", "fontSize": 17, "color": "#e01010", "align": "center", "baseline": "middle"},
  "encoding": {"text": {"field": "t"}}},
 {"data": {"values": [{"d":"2016-05-24","p":5.674,"t":"5,75€"}]},
  "mark": {"type": "text", "font": "Liberation Sans", "fontSize": 18.5, "color": "#e01010", "align": "right", "baseline": "alphabetic"},
  "encoding": {"text": {"field": "t"}}},
 {"data": {"values": [{"d":"2016-07-03","p":6.62,"t":"g"},{"d":"2016-07-03","p":6.21,"t":"a"},{"d":"2016-07-03","p":5.88,"t":"p"}]},
  "mark": {"type": "text", "font": "Liberation Sans", "fontSize": 18, "color": "#e01010", "align": "center", "baseline": "alphabetic"},
  "encoding": {"text": {"field": "t"}}},
 {"data": {"values": [{"d":"2016-03-28","p":4.82,"t":"RESISTENCIAS"},{"d":"2016-03-28","p":4.562,"t":"CORTO PLAZO"}]},
  "mark": {"type": "text", "font": "Liberation Sans", "fontSize": 18, "color": "#555555", "align": "center", "baseline": "alphabetic"},
  "encoding": {"text": {"field": "t"}}},
 {"data": {"values": [{"d":"2016-07-12","d2":"2016-07-20","p":4.39,"p2":4.30}]},
  "mark": {"type": "rect", "fill": "#ffffcc", "stroke": "#999999", "strokeWidth": 0.5},
  "encoding": {"x2": {"field": "d2"}, "y2": {"field": "p2"}}}
]
}
]
}
